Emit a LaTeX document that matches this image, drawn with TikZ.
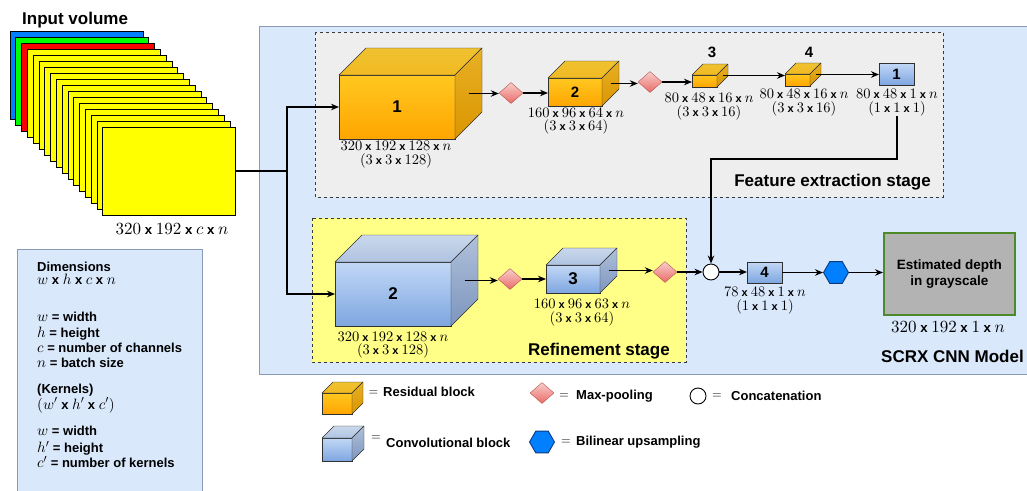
\documentclass[tikz,border=0pt]{standalone}
\usepackage[no-math]{fontspec}
\setmainfont{Liberation Sans}
\usetikzlibrary{shapes.geometric,arrows.meta,calc}

% Computer Modern math, freely scalable
\DeclareFontShape{OML}{cmm}{m}{it}{<->cmmi10}{}
\DeclareFontShape{OT1}{cmr}{m}{n}{<->cmr10}{}
\DeclareFontShape{OMS}{cmsy}{m}{n}{<->cmsy10}{}
% math set a little larger than the surrounding sans text
\DeclareMathSizes{11}{14.5}{10}{8}
\DeclareMathSizes{13}{15}{11}{9}
\DeclareMathSizes{13.2}{17}{12}{10}
\DeclareMathSizes{12}{12.5}{9}{7}

% palette
\definecolor{panelfill}{HTML}{DAE8FC}
\definecolor{panelline}{HTML}{8A9AB5}
\definecolor{stagegray}{HTML}{EEEEEE}
\definecolor{stageyel}{HTML}{FFFF88}
\definecolor{stageline}{HTML}{36393D}
\definecolor{cubeline}{HTML}{303030}
% orange (residual) cube faces
\definecolor{orFT}{HTML}{FFC820}
\definecolor{orFB}{HTML}{FFA500}
\definecolor{orTT}{HTML}{F0C230}
\definecolor{orTB}{HTML}{F0BA22}
\definecolor{orST}{HTML}{E8B025}
\definecolor{orSB}{HTML}{DA9600}
% blue (convolutional) cube faces
\definecolor{blFT}{HTML}{C2D8F6}
\definecolor{blFB}{HTML}{7EA6E0}
\definecolor{blTT}{HTML}{CAD8EC}
\definecolor{blTB}{HTML}{AFC3E0}
\definecolor{blST}{HTML}{AFC0DA}
\definecolor{blSB}{HTML}{7D96BE}
\definecolor{poolT}{HTML}{F8CECC}
\definecolor{poolB}{HTML}{EA6B66}
\definecolor{poolline}{HTML}{B85450}
\definecolor{upfill}{HTML}{007FFF}
\definecolor{upline}{HTML}{0E3A80}
\definecolor{outfill}{HTML}{B3B3B3}
\definecolor{outline}{HTML}{4E8A2A}
\definecolor{inblue}{HTML}{007FFF}
\definecolor{ingreen}{HTML}{00FF00}
\definecolor{inred}{HTML}{FF0000}
\definecolor{inyel}{HTML}{FFFF00}

\newcommand\tmx{\textbf{x}}

% cuboid: name, x, y (front top-left), width, height, depth, palette, label
\newcommand\cuboid[8]{%
  \node[cubeface, minimum width=#4pt, minimum height=#5pt,
        top color=#7FT, bottom color=#7FB, anchor=north west] (#1) at (#2,#3) {#8};
  \path[draw=cubeline, line join=round, top color=#7TT, bottom color=#7TB]
    (#1.north west) -- ++(#6,-#6) -- ++(#4,0) -- (#1.north east) -- cycle;
  \path[draw=cubeline, line join=round, top color=#7ST, bottom color=#7SB]
    (#1.north east) -- ++(#6,-#6) -- ++(0,#5) -- (#1.south east) -- cycle;
  \coordinate (#1-out) at ($(#1.east)+(0.5*#6,-0.5*#6)$);
}

\begin{document}
\begin{tikzpicture}[x=1pt,y=-1pt,
  cubeface/.style={draw=cubeline, inner sep=0pt, outer sep=0pt,
    font=\bfseries\fontsize{17}{17}\selectfont},
  smallnum/.style={font=\bfseries\fontsize{15}{15}\selectfont},
  flatbox/.style={draw=cubeline, inner sep=0pt, outer sep=0pt, top color=blFT,
    bottom color=blFB, minimum width=35pt, font=\bfseries\fontsize{15}{15}\selectfont},
  pool/.style={diamond, draw=poolline, top color=poolT, bottom color=poolB,
    minimum width=24pt, minimum height=21pt, inner sep=0pt},
  concat/.style={circle, draw=black, fill=white, line width=0.9pt,
    minimum size=16pt, inner sep=0pt},
  upsamp/.style={regular polygon, regular polygon sides=6, draw=upline,
    fill=upfill, line width=0.9pt, minimum size=25pt, inner sep=0pt},
  arr/.style={line width=1.3pt, -{Stealth[length=8pt,width=6.5pt]}},
  wire/.style={line width=1.3pt},
  dimf/.style={font=\fontsize{11}{13.5}\selectfont, align=center, inner sep=0pt},
  bigdim/.style={font=\fontsize{13.2}{16}\selectfont, inner sep=0pt},
  title/.style={font=\bfseries\fontsize{17}{17}\selectfont, inner sep=0pt},
  legf/.style={font=\bfseries\fontsize{13}{13}\selectfont, inner sep=0pt, anchor=base west},
  eqs/.style={font=\fontsize{12}{12}\selectfont, inner sep=0pt},
  layer/.style={draw=black, line width=0.9pt},
  stage/.style={draw=stageline, line width=0.9pt, dash pattern=on 3pt off 3pt}
]
\useasboundingbox (0,0) rectangle (1027,490);

% background panels
\draw[panelline, fill=panelfill, line width=0.9pt] (259,26) rectangle (1040,374);
\draw[panelline, fill=panelfill, line width=0.9pt] (17,249) rectangle (202,500);
\draw[stage, fill=stagegray] (315,32) rectangle (943,197);
\draw[stage, fill=stageyel] (312,218) rectangle (686,362);

% input volume: stacked channel slices
\draw[layer, fill=inblue] (10,31) rectangle ++(133,88);
\draw[layer, fill=ingreen] (15.8,37) rectangle ++(133,88);
\draw[layer, fill=inred] (21.6,43) rectangle ++(133,88);
\foreach \i in {3,...,15}
  \draw[layer, fill=inyel] ({10+5.8*\i},{31+6*\i}) rectangle ++(133,88);
\node[layer, fill=inyel, minimum width=133pt, minimum height=88pt, inner sep=0pt,
      outer sep=0pt, anchor=north west] (in) at (102.8,127) {};
\node[title, anchor=west] at (22,20.5) {Input volume};
\node[bigdim] at (172,229) {$320$ \tmx{} $192$ \tmx{} $c$ \tmx{} $n$};

% feature extraction stage
\cuboid{c1}{339}{75}{116}{64}{27}{or}{1}
\cuboid{c2}{548}{78}{54}{28}{17}{or}{\fontsize{15}{15}\selectfont 2}
\cuboid{c3}{692}{75}{25}{12}{11}{or}{}
\cuboid{c4}{785}{74}{25}{12}{11}{or}{}
\node[flatbox, minimum height=22pt, anchor=north west] (b1) at (879,63) {1};
\node[smallnum] at (712,52) {3};
\node[smallnum] at (809,52) {4};
\node[pool] (p1) at (511,93) {};
\node[pool] (p2) at (650,82) {};

\node[dimf] (c1lab) at (396,154.5) {$320$ \tmx{} $192$ \tmx{} $128$ \tmx{} $n$\\$(3$ \tmx{} $3$ \tmx{} $128)$};
\node[dimf] (c2lab) at (576,121) {$160$ \tmx{} $96$ \tmx{} $64$ \tmx{} $n$\\$(3$ \tmx{} $3$ \tmx{} $64)$};
\node[dimf] (c3lab) at (709,106.5) {$80$ \tmx{} $48$ \tmx{} $16$ \tmx{} $n$\\$(3$ \tmx{} $3$ \tmx{} $16)$};
\node[dimf] (c4lab) at (804,102.5) {$80$ \tmx{} $48$ \tmx{} $16$ \tmx{} $n$\\$(3$ \tmx{} $3$ \tmx{} $16)$};
\node[dimf] (b1lab) at (897,102.5) {$80$ \tmx{} $48$ \tmx{} $1$ \tmx{} $n$\\$(1$ \tmx{} $1$ \tmx{} $1)$};
\node[title, anchor=east] at (931,182) {Feature extraction stage};

% refinement stage
\cuboid{r2}{335}{262}{116}{64}{27}{bl}{2}
\cuboid{r3}{546}{265}{54}{28}{17}{bl}{3}
\node[pool] (p3) at (510,279) {};
\node[pool] (p4) at (665,272) {};
\node[dimf] (r2lab) at (393,345) {$320$ \tmx{} $192$ \tmx{} $128$ \tmx{} $n$\\$(3$ \tmx{} $3$ \tmx{} $128)$};
\node[dimf] (r3lab) at (582,312.5) {$160$ \tmx{} $96$ \tmx{} $63$ \tmx{} $n$\\$(3$ \tmx{} $3$ \tmx{} $64)$};
\node[title, anchor=east] at (670,351) {Refinement stage};

% fusion and output
\node[concat] (cat) at (711,272) {};
\node[flatbox, minimum height=21pt, anchor=north west] (b4) at (747,262) {4};
\node[dimf] (b4lab) at (765,300.5) {$78$ \tmx{} $48$ \tmx{} $1$ \tmx{} $n$\\$(1$ \tmx{} $1$ \tmx{} $1)$};
\node[upsamp] (up) at (836,272.5) {};
\node[draw=outline, line width=1.6pt, fill=outfill, minimum width=131pt,
      minimum height=82pt, anchor=north west, align=center,
      font=\bfseries\fontsize{13.5}{16}\selectfont] (depth) at (883,232)
      {Estimated depth\\in grayscale};
\node[bigdim] at (948,327) {$320$ \tmx{} $192$ \tmx{} $1$ \tmx{} $n$};
\node[title, anchor=west] at (881,356) {SCRX CNN Model};

% connectors
\coordinate (split) at (287,171);
\draw[wire] (in.east) -- (split);
\draw[arr] (split) |- (c1.west);
\draw[arr] (split) |- (r2.west);
\draw[arr] (c1-out) -- (c1-out -| p1.west);
\draw[arr] (p1.east) -- (p1.east -| c2.west);
\draw[arr] (c2-out) -- (c2-out -| p2.west);
\draw[arr] (p2.east) -- (p2.east -| c3.west);
\draw[arr] (c3-out) -- (c3-out -| c4.west);
\draw[arr] (c4-out) -- (c4-out -| b1.west);
\coordinate (fbend) at (711,159);
\draw[arr] (b1lab.south) |- (fbend) -- (cat.north);
\draw[arr] (r2-out) -- (r2-out -| p3.west);
\draw[arr] (p3.east) -- (p3.east -| r3.west);
\draw[arr] (r3-out) -- (r3-out -| p4.west);
\draw[arr] (p4.east) -- (cat.west);
\draw[arr] (cat.east) -- (cat.east -| b4.west);
\draw[arr] (b4.east) -- (b4.east -| up.west);
\draw[arr] (up.east) -- (up.east -| depth.west);

% dimension legend
\node[legf] at (37,271) {Dimensions};
\node[legf] at (37,284) {$w$ \tmx{} $h$ \tmx{} $c$ \tmx{} $n$};
\node[legf] at (37,321) {$w$ = width};
\node[legf] at (37,337) {$h$ = height};
\node[legf] at (37,352) {$c$ = number of channels};
\node[legf] at (37,367) {$n$ = batch size};
\node[legf] at (37,393) {(Kernels)};
\node[legf] at (37,409) {$(w'$ \tmx{} $h'$ \tmx{} $c')$};
\node[legf] at (37,435.5) {$w$ = width};
\node[legf] at (37,452.5) {$h'$ = height};
\node[legf] at (37,467.5) {$c'$ = number of kernels};

% symbol legend
\cuboid{lgr}{322}{393}{30}{21}{11}{or}{}
\node[eqs] at (373.5,393) {$=$};
\node[legf, anchor=west] at (383,392) {Residual block};
\cuboid{lgc}{322}{438}{30}{23}{12}{bl}{}
\node[eqs] at (376,438) {$=$};
\node[legf, anchor=west] at (386,443) {Convolutional block};
\node[pool] (lgp) at (542,393) {};
\node[eqs] at (564,396) {$=$};
\node[legf, anchor=west] at (576,396) {Max-pooling};
\node[upsamp] (lgu) at (542,442) {};
\node[eqs] at (566,442.5) {$=$};
\node[legf, anchor=west] at (576,442) {Bilinear upsampling};
\node[concat] (lgk) at (698,396) {};
\node[eqs] at (717,396) {$=$};
\node[legf, anchor=west] at (731,396) {Concatenation};
\end{tikzpicture}
\end{document}
